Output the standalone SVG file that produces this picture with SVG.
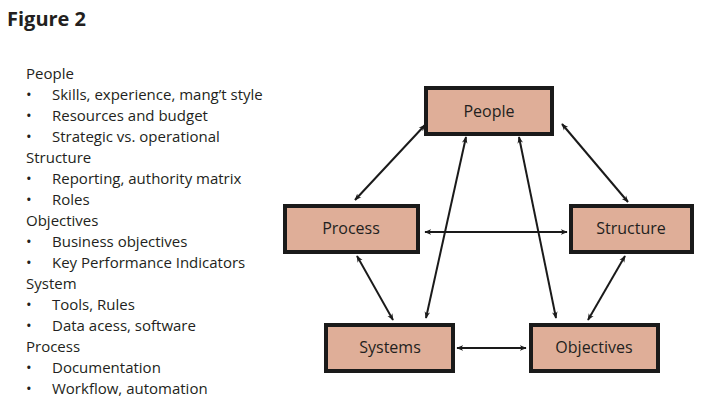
<svg xmlns="http://www.w3.org/2000/svg" width="715" height="411" viewBox="0 0 715 411">
<style>
text{font-family:"Open Sans","DejaVu Sans",sans-serif;fill:#231f20}
.l{font-size:15px}
.b rect{fill:#dfae98;stroke:#1a1a1a;stroke-width:4}
.b text{font-size:16px;text-anchor:middle}
.c line{stroke:#1a1a1a;stroke-width:2;marker-start:url(#a);marker-end:url(#a)}
</style>
<defs><marker id="a" viewBox="0 0 10 10" refX="9" refY="5" markerWidth="7" markerHeight="7" orient="auto-start-reverse" markerUnits="userSpaceOnUse"><path d="M0,1 L10,5 L0,9 L3,5 Z" fill="#1a1a1a"/></marker></defs>
<rect width="715" height="411" fill="#fff"/>
<text x="7" y="26" style="font-size:20px;font-weight:bold">Figure 2</text>
<g class="l">
<text x="26" y="79" class="l">People</text>
<text x="26" y="100" class="l">•</text><text x="52" y="100" class="l">Skills, experience, mang’t style</text>
<text x="26" y="121" class="l">•</text><text x="52" y="121" class="l">Resources and budget</text>
<text x="26" y="142" class="l">•</text><text x="52" y="142" class="l">Strategic vs. operational</text>
<text x="26" y="163" class="l">Structure</text>
<text x="26" y="184" class="l">•</text><text x="52" y="184" class="l">Reporting, authority matrix</text>
<text x="26" y="205" class="l">•</text><text x="52" y="205" class="l">Roles</text>
<text x="26" y="226" class="l">Objectives</text>
<text x="26" y="247" class="l">•</text><text x="52" y="247" class="l">Business objectives</text>
<text x="26" y="268" class="l">•</text><text x="52" y="268" class="l">Key Performance Indicators</text>
<text x="26" y="289" class="l">System</text>
<text x="26" y="310" class="l">•</text><text x="52" y="310" class="l">Tools, Rules</text>
<text x="26" y="331" class="l">•</text><text x="52" y="331" class="l">Data acess, software</text>
<text x="26" y="352" class="l">Process</text>
<text x="26" y="373" class="l">•</text><text x="52" y="373" class="l">Documentation</text>
<text x="26" y="394" class="l">•</text><text x="52" y="394" class="l">Workflow, automation</text>
</g>
<g class="c">
<line x1="425" y1="125" x2="355" y2="200"/>
<line x1="562" y1="124" x2="628" y2="202"/>
<line x1="425" y1="232" x2="567" y2="232"/>
<line x1="466" y1="137" x2="426" y2="318"/>
<line x1="519" y1="137" x2="556" y2="318"/>
<line x1="357" y1="256" x2="393" y2="320"/>
<line x1="625" y1="256" x2="588" y2="320"/>
<line x1="457" y1="348" x2="526" y2="348"/>
</g>
<g id="people" class="b"><rect x="426" y="88" width="126" height="46"/><text x="489" y="117">People</text></g>
<g id="process" class="b"><rect x="285" y="206" width="133" height="46"/><text x="351" y="234">Process</text></g>
<g id="structure" class="b"><rect x="571" y="206" width="121" height="46"/><text x="631" y="234">Structure</text></g>
<g id="systems" class="b"><rect x="326" y="325" width="127" height="46"/><text x="390" y="353">Systems</text></g>
<g id="objectives" class="b"><rect x="531" y="325" width="127" height="46"/><text x="594" y="353">Objectives</text></g>
</svg>
